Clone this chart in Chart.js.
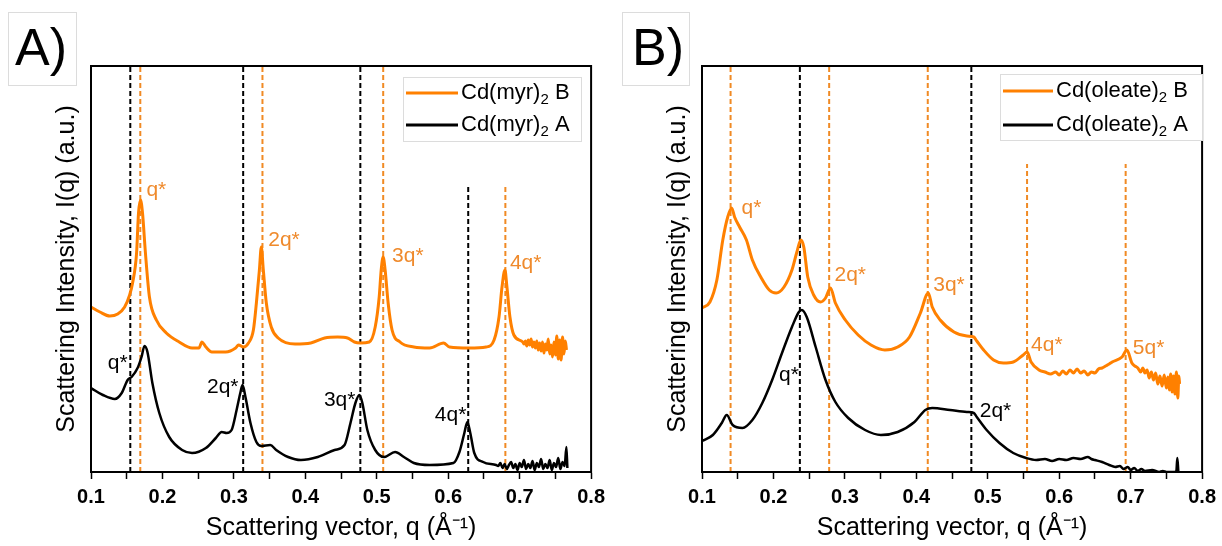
<!DOCTYPE html>
<html>
<head>
<meta charset="utf-8">
<script src="https://cdn.jsdelivr.net/npm/chart.js@4.4.1/dist/chart.umd.min.js"></script>
<style>
  body { margin: 0; background: #fff; }
  #wrap { position: relative; width: 1222px; height: 546px; }
  .panel { position: absolute; top: 0; width: 611px; height: 546px; }
  .tag {
    position: absolute; top: 12px; height: 74px; box-sizing: border-box;
    border: 1px solid #dcdcdc; background: #fff;
    font: 52px Arial, "Liberation Sans", sans-serif; line-height: 68px; color: #000;
  }
</style>
</head>
<body>
<div id="wrap">
  <div class="panel" style="left:0"><canvas id="chartA" width="611" height="546"></canvas>
    <div class="tag" style="left:8px;width:69px;padding-left:6px">A)</div></div>
  <div class="panel" style="left:611px"><canvas id="chartB" width="611" height="546"></canvas>
    <div class="tag" style="left:11px;width:68px;padding-left:9px">B)</div></div>
</div>
<script>
const ORANGE = '#ff8000';
const ORANGE_TXT = '#ef8a2c';
const BLACK = '#000000';
const I_MAX = 406;

// Cd(myr)2 sample B
const myrB_q = [0.100, 0.1125, 0.1263, 0.1374, 0.1471, 0.1541, 0.1582, 0.1638, 0.1665, 0.1693, 0.1721, 0.1762,
  0.1818, 0.1915, 0.2054, 0.2234, 0.2414, 0.2511, 0.2553, 0.2608, 0.2691, 0.2885, 0.3024, 0.3065, 0.3135,
  0.3204, 0.3273, 0.3315, 0.3357, 0.3384, 0.3412, 0.3454, 0.3523, 0.3620, 0.3856, 0.4077, 0.4271, 0.4452,
  0.4590, 0.4687, 0.4770, 0.4895, 0.4978, 0.5034, 0.5062, 0.5089, 0.5117, 0.5159, 0.5214, 0.5325, 0.5519,
  0.5741, 0.5935, 0.6018, 0.6295, 0.6531, 0.6642, 0.6711, 0.6753, 0.6794, 0.6822, 0.6864, 0.6919, 0.7044,
  0.7060, 0.7080, 0.7100, 0.7120, 0.7140, 0.7160, 0.7180, 0.7200, 0.7220, 0.7240, 0.7260, 0.7280, 0.7300,
  0.7320, 0.7340, 0.7360, 0.7380, 0.7400, 0.7420, 0.7440, 0.7460, 0.7480, 0.7500, 0.7520, 0.7540, 0.7560,
  0.7580, 0.7600, 0.7620, 0.7640, 0.7655];
const myrB_I = [165, 160, 156, 158, 165, 177, 189, 219, 259, 272, 259, 219,
  175, 152, 139, 130, 124, 124, 130, 125, 120, 120, 124, 127, 125,
  129, 142, 169, 202, 225, 202, 169, 145, 134, 128, 129, 134, 135,
  134, 130, 129, 130, 145, 175, 202, 215, 202, 169, 142, 130, 125,
  124, 129, 125, 124, 125, 132, 155, 185, 202, 185, 155, 137, 130,
  128, 131, 126, 132, 127, 133, 125, 130, 124, 131, 122, 129, 121,
  130, 119, 128, 122, 133, 118, 127, 115, 130, 117, 136, 113, 132,
  112, 135, 118, 131, 122];

// Cd(myr)2 sample A
const myrA_q = [0.100, 0.1166, 0.1333, 0.1430, 0.1513, 0.1568, 0.1652, 0.1707, 0.1749, 0.1790, 0.1859, 0.1956,
  0.2095, 0.2275, 0.2414, 0.2608, 0.2747, 0.2830, 0.2899, 0.2968, 0.3038, 0.3093, 0.3121, 0.3162, 0.3232,
  0.3315, 0.3384, 0.3509, 0.3592, 0.3759, 0.3939, 0.4174, 0.4410, 0.4549, 0.4632, 0.4701, 0.4757, 0.4798,
  0.4868, 0.4978, 0.5103, 0.5256, 0.5380, 0.5519, 0.5741, 0.6073, 0.6157, 0.6226, 0.6268, 0.6309, 0.6365,
  0.6489, 0.6670, 0.6700, 0.6730, 0.6760, 0.6790, 0.6820, 0.6850, 0.6880, 0.6910, 0.6940, 0.6970, 0.7000,
  0.7030, 0.7060, 0.7090, 0.7120, 0.7150, 0.7180, 0.7210, 0.7240, 0.7270, 0.7300, 0.7330, 0.7360, 0.7390,
  0.7420, 0.7450, 0.7480, 0.7510, 0.7540, 0.7570, 0.7600, 0.7630, 0.7654, 0.7668];
const myrA_I = [84, 77, 73, 79, 92, 95, 104, 115, 126, 120, 89, 59,
  35, 22, 19, 24, 34, 40, 39, 42, 62, 80, 87, 75, 49,
  30, 26, 27, 22, 15, 12, 15, 22, 27, 49, 69, 77, 69,
  42, 22, 15, 20, 15, 9, 7, 9, 20, 39, 50, 39, 19,
  10, 7, 6, 9, 4, 8, 3, 7, 10, 4, 8, 2, 9,
  5, 12, 3, 8, 4, 11, 2, 9, 5, 13, 3, 8, 4,
  12, 2, 9, 5, 14, 3, 10, 6, 25, 4];

// Cd(oleate)2 sample B
const oleB_q = [0.100, 0.1111, 0.1208, 0.1291, 0.1360, 0.1415, 0.1456, 0.1526, 0.1622, 0.1705, 0.1830, 0.1941,
  0.2037, 0.2148, 0.2259, 0.2328, 0.2383, 0.2425, 0.2480, 0.2563, 0.2660, 0.2729, 0.2798, 0.2867, 0.3006,
  0.3186, 0.3366, 0.3559, 0.3739, 0.3905, 0.4057, 0.4168, 0.4223, 0.4334, 0.4527, 0.4707, 0.4804, 0.4846,
  0.4942, 0.5081, 0.5219, 0.5357, 0.5496, 0.5551, 0.5606, 0.5717, 0.5800, 0.5880, 0.5950, 0.6000, 0.6050,
  0.6100, 0.6150, 0.6200, 0.6250, 0.6300, 0.6350, 0.6400, 0.6450, 0.6500, 0.6550, 0.6600, 0.6650, 0.6700,
  0.6741, 0.6879, 0.6948, 0.7017, 0.7060, 0.7100, 0.7140, 0.7170, 0.7200, 0.7230, 0.7260, 0.7290, 0.7320,
  0.7350, 0.7380, 0.7410, 0.7440, 0.7470, 0.7500, 0.7520, 0.7540, 0.7560, 0.7580, 0.7600, 0.7620, 0.7640,
  0.7660, 0.7675, 0.7685];
const oleB_I = [164, 170, 192, 232, 255, 264, 255, 245, 232, 212, 194, 182,
  179, 185, 202, 220, 232, 225, 195, 177, 170, 174, 184, 169, 152,
  137, 127, 122, 125, 135, 159, 179, 165, 152, 140, 136, 135, 131,
  122, 112, 109, 110, 117, 120, 110, 102, 100, 98, 100, 97, 101,
  98, 102, 99, 103, 99, 101, 97, 100, 99, 103, 104, 106, 108,
  110, 115, 122, 109, 106, 104, 100, 104, 99, 102, 94, 100, 92,
  99, 88, 96, 86, 97, 84, 95, 82, 98, 80, 96, 78, 100,
  74, 96, 88];

// Cd(oleate)2 sample A
const oleA_q = [0.100, 0.1152, 0.1277, 0.1346, 0.1429, 0.1567, 0.1705, 0.1844, 0.1982, 0.2120, 0.2259, 0.2356,
  0.2397, 0.2466, 0.2591, 0.2729, 0.2867, 0.3047, 0.3282, 0.3504, 0.3739, 0.3974, 0.4126, 0.4223, 0.4472,
  0.4707, 0.4804, 0.4846, 0.4984, 0.5164, 0.5357, 0.5537, 0.5676, 0.5800, 0.5900, 0.6000, 0.6100, 0.6200,
  0.6300, 0.6400, 0.6450, 0.6500, 0.6600, 0.6700, 0.6783, 0.6850, 0.6900, 0.6960, 0.7000, 0.7050, 0.7100,
  0.7150, 0.7200, 0.7300, 0.7400, 0.7450, 0.7500, 0.7600, 0.7640, 0.7653, 0.7667];
const oleA_I = [31, 37, 49, 57, 47, 44, 52, 69, 92, 119, 145, 160,
  162, 155, 125, 92, 70, 54, 42, 37, 40, 50, 62, 64, 62,
  60, 59, 55, 42, 29, 19, 14, 12, 13, 11, 13, 12, 14,
  13, 15, 13, 12, 10, 7, 5, 6, 3, 5, 2, 4, 1,
  3, 1, 2, 0, 1, 0, 0, 1, 14, 1];

// Bragg peak markers (q positions) and how high each dashed line reaches
const myrB_peaks = [0.169, 0.340, 0.509, 0.680];
const myrB_tops = [I_MAX, I_MAX, I_MAX, 287];
const myrA_peaks = [0.155, 0.313, 0.477, 0.628];
const myrA_tops = [I_MAX, I_MAX, I_MAX, 287];
const oleB_peaks = [0.140, 0.278, 0.416, 0.555, 0.693];
const oleB_tops = [I_MAX, I_MAX, I_MAX, 308, 308];
const oleA_peaks = [0.237, 0.477];
const oleA_tops = [I_MAX, I_MAX];

// Peak labels: text, anchor q, anchor intensity
const myrB_notes = [['q*', 0.1776, 282], ['2q*', 0.3481, 232], ['3q*', 0.5214, 216], ['4q*', 0.6864, 209]];
const myrA_notes = [['q*', 0.1513, 109], ['2q*', 0.3065, 85], ['3q*', 0.4701, 72], ['4q*', 0.6254, 57]];
const oleB_notes = [['q*', 0.1553, 264], ['2q*', 0.2854, 197], ['3q*', 0.4237, 187], ['4q*', 0.5606, 127], ['5q*', 0.7031, 124]];
const oleA_notes = [['q*', 0.2356, 97]];
const oleA_notesRight = [['2q*', 0.4887, 61]];

const FONT = 'Arial, "Liberation Sans", sans-serif';

const frame = {
  id: 'frame',
  afterDatasetsDraw(chart, args, opts) {
    const {ctx, chartArea: a, scales: {x, y}} = chart;
    ctx.save();
    // peak labels
    ctx.font = '21px ' + FONT;
    ctx.textBaseline = 'middle';
    opts.notes.forEach(n => {
      ctx.fillStyle = n.color;
      ctx.textAlign = n.align;
      n.list.forEach(([t, q, i]) => ctx.fillText(t, x.getPixelForValue(q), y.getPixelForValue(i)));
    });
    // plot frame
    ctx.strokeStyle = '#000';
    ctx.lineWidth = 2;
    ctx.strokeRect(a.left, a.top, a.right - a.left, a.bottom - a.top);
    // legend box
    const L = opts.legend;
    ctx.fillStyle = '#fff';
    ctx.fillRect(L.x, L.y, L.w, L.h);
    ctx.strokeStyle = '#dcdcdc';
    ctx.lineWidth = 1;
    ctx.strokeRect(L.x + 0.5, L.y + 0.5, L.w, L.h);
    chart.data.datasets.filter(d => d.inLegend).forEach((d, k) => {
      const cy = L.y + L.row0 + k * L.gap;
      ctx.strokeStyle = d.borderColor;
      ctx.lineWidth = 3;
      ctx.beginPath();
      ctx.moveTo(L.x + 3, cy);
      ctx.lineTo(L.x + L.line, cy);
      ctx.stroke();
      const [head, tail] = d.label.split('₂');
      ctx.fillStyle = '#000';
      ctx.textAlign = 'left';
      ctx.font = '22px ' + FONT;
      let tx = L.x + L.line + 3;
      ctx.fillText(head, tx, cy);
      tx += ctx.measureText(head).width;
      ctx.font = '15px ' + FONT;
      ctx.fillText('2', tx, cy + 7);
      tx += ctx.measureText('2').width;
      ctx.font = '22px ' + FONT;
      ctx.fillText(tail, tx, cy);
    });
    ctx.restore();
  }
};

function makePanel(id, series, marks, notes, legend, padRight) {
  const datasets = [];
  series.forEach(s => datasets.push({
    label: s.label, inLegend: true,
    data: s.q.map((q, k) => ({x: q, y: s.I[k]})),
    borderColor: s.color, borderWidth: s.width,
    pointRadius: 0, cubicInterpolationMode: 'monotone', order: 0
  }));
  marks.forEach(m => m.q.forEach((q, k) => datasets.push({
    data: [{x: q, y: 0}, {x: q, y: m.top[k]}],
    borderColor: m.color, borderWidth: 2, borderDash: [5, 3],
    pointRadius: 0, order: 1
  })));

  new Chart(document.getElementById(id), {
    type: 'line',
    data: {datasets},
    plugins: [frame],
    options: {
      responsive: false,
      animation: false,
      layout: {padding: {left: 0, top: 66, right: padRight, bottom: 0}},
      plugins: {legend: {display: false}, tooltip: {enabled: false}, frame: {notes, legend}},
      scales: {
        x: {
          type: 'linear', min: 0.1, max: 0.8,
          afterFit: s => { s.height = 74; },
          ticks: {
            stepSize: 0.05, autoSkip: false, maxRotation: 0, padding: 6, color: '#000',
            font: {family: FONT, size: 20, weight: 'bold'},
            callback: v => Math.abs(v * 10 - Math.round(v * 10)) < 1e-6 ? v.toFixed(1) : ''
          },
          grid: {drawOnChartArea: false, drawTicks: true, tickLength: 7, tickWidth: 1.5, tickColor: '#000'},
          border: {display: true, color: '#000', width: 2},
          title: {display: true, text: 'Scattering vector, q (Å⁻¹)', color: '#000',
            font: {family: FONT, size: 25}, padding: {top: 0, bottom: 3}}
        },
        y: {
          min: 0, max: I_MAX,
          afterFit: s => { s.width = 91; },
          ticks: {display: false},
          grid: {display: false},
          border: {display: false},
          title: {display: true, text: 'Scattering Intensity, I(q) (a.u.)', color: '#000',
            font: {family: FONT, size: 25}, padding: {top: 52, bottom: 0}}
        }
      }
    }
  });
}

makePanel('chartA',
  [{label: 'Cd(myr)₂ B', q: myrB_q, I: myrB_I, color: ORANGE, width: 3},
   {label: 'Cd(myr)₂ A', q: myrA_q, I: myrA_I, color: BLACK, width: 2.5}],
  [{q: myrA_peaks, top: myrA_tops, color: BLACK},
   {q: myrB_peaks, top: myrB_tops, color: '#f08a24'}],
  [{list: myrB_notes, color: ORANGE_TXT, align: 'left'},
   {list: myrA_notes, color: BLACK, align: 'right'}],
  {x: 403, y: 77, w: 178, h: 64, row0: 16, gap: 32, line: 55},
  15);

makePanel('chartB',
  [{label: 'Cd(oleate)₂ B', q: oleB_q, I: oleB_I, color: ORANGE, width: 3},
   {label: 'Cd(oleate)₂ A', q: oleA_q, I: oleA_I, color: BLACK, width: 2.5}],
  [{q: oleB_peaks, top: oleB_tops, color: '#f08a24'},
   {q: oleA_peaks, top: oleA_tops, color: BLACK}],
  [{list: oleB_notes, color: ORANGE_TXT, align: 'left'},
   {list: oleA_notes, color: BLACK, align: 'right'},
   {list: oleA_notesRight, color: BLACK, align: 'left'}],
  {x: 389, y: 74, w: 202, h: 66, row0: 17, gap: 34, line: 53},
  14);
</script>
</body>
</html>
